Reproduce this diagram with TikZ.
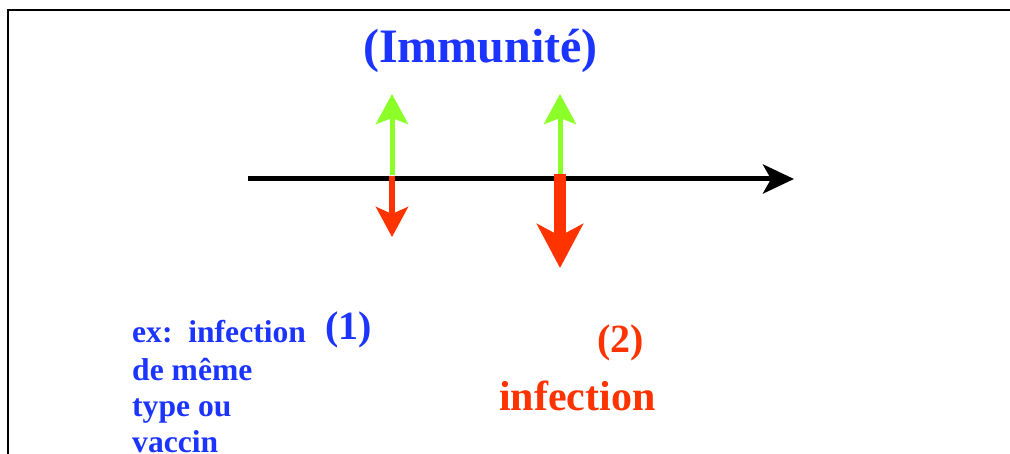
\documentclass[tikz,border=0pt]{standalone}
\usepackage{fontspec}
\setmainfont{Liberation Serif}
\usetikzlibrary{arrows.meta}
\definecolor{myblue}{RGB}{28,52,255}
\definecolor{mygreen}{RGB}{140,255,40}
\definecolor{myred}{RGB}{255,51,0}
\begin{document}
\begin{tikzpicture}[x=1pt,y=-1pt,
  txt/.style={inner sep=0pt,anchor=base west,font=\bfseries},
  frame/.style={line width=2pt,black},
  axis/.style={line width=5pt,black,-{Stealth[length=31pt,width=29pt,inset=8pt]}},
  up/.style={line width=5pt,mygreen,-{Stealth[length=30pt,width=32pt,inset=6pt]}},
  downs/.style={line width=5.5pt,myred,-{Stealth[length=30pt,width=32pt,inset=7pt]}},
  downb/.style={line width=12pt,myred,-{Stealth[length=44pt,width=46pt,inset=12pt]}}]
\useasboundingbox (0,0) rectangle (1010,454);
% frame
\coordinate (tl) at (8,10);
\coordinate (tr) at (1012,10);
\coordinate (bl) at (8,456);
\draw[frame] (tr) -- (tl) -- (bl);
% axis
\coordinate (a0) at (248,179);
\coordinate (a1) at (794,179);
\draw[axis] (a0) -- (a1);
% arrows at event 1
\coordinate (e1) at (392,175);
\coordinate (e1u) at (392,94);
\coordinate (e1d) at (392,237);
\draw[up] (e1) -- (e1u);
\draw[downs] ([yshift=-1pt]e1) -- (e1d);
% arrows at event 2
\coordinate (e2) at (560,174);
\coordinate (e2u) at (560,94);
\coordinate (e2d) at (560,268);
\draw[up] (e2) -- (e2u);
\draw[downb] (e2) -- (e2d);
% texts
\node[txt,text=myblue,font=\bfseries\fontsize{48}{57}\selectfont] (imm) at (363,63) {(Immunité)};
\node[txt,text=myblue,font=\bfseries\fontsize{40}{48}\selectfont] (n1) at (325,340) {(1)};
\node[txt,text=myblue,font=\bfseries\fontsize{31.6}{37}\selectfont] (l1) at (132,343) {ex:\ \ infection};
\node[txt,text=myblue,font=\bfseries\fontsize{31.6}{37}\selectfont] (l2) at (132,381) {de même};
\node[txt,text=myblue,font=\bfseries\fontsize{31.6}{37}\selectfont] (l3) at (132,417) {type ou};
\node[txt,text=myblue,font=\bfseries\fontsize{31.6}{37}\selectfont] (l4) at (132,453) {vaccin};
\node[txt,text=myred,font=\bfseries\fontsize{40}{48}\selectfont] (n2) at (597,353) {(2)};
\node[txt,text=myred,font=\bfseries\fontsize{42}{50}\selectfont] (inf) at (499,410) {infection};
\end{tikzpicture}
\end{document}
